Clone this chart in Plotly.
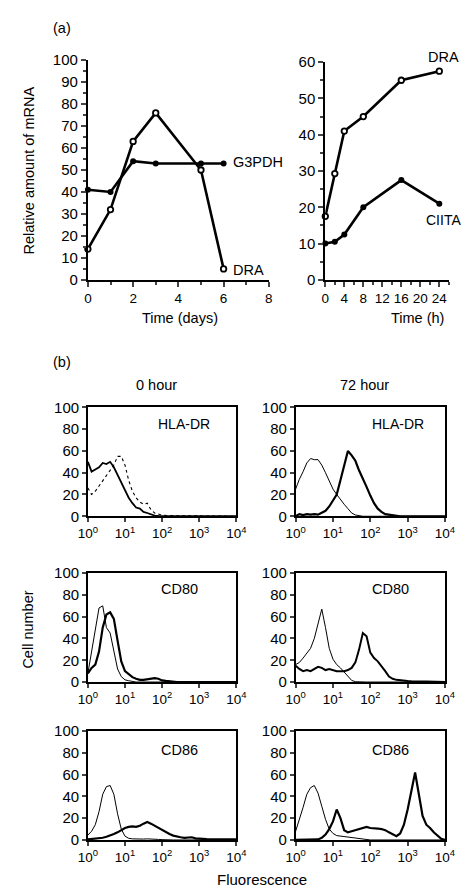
import plotly.graph_objects as go

W, H = 469, 889

# ---------------- Panel (a) data ----------------
DAYS = [0, 1, 2, 3, 5, 6]
DRA_DAYS = [14, 32, 63, 76, 50, 5]
G3PDH_DAYS = [41, 40, 54, 53, 53, 53]

HOURS = [0, 2, 4, 8, 16, 24]
DRA_HOURS = [17.5, 29.3, 41, 45, 55, 57.5]
CIITA_HOURS = [10, 10.5, 12.5, 20, 27.5, 21]

# ---------------- Panel (b) data ----------------
# log10 of fluorescence channel
FL_EXP = [0.0, 0.1, 0.2, 0.3, 0.4, 0.5, 0.6, 0.7, 0.8, 0.9,
          1.0, 1.1, 1.2, 1.3, 1.4, 1.5, 1.6, 1.7, 1.8, 1.9,
          2.0, 2.1, 2.2, 2.3, 2.4, 2.5, 2.6, 2.7, 2.8, 2.9,
          3.0, 3.1, 3.2, 3.3, 3.4, 3.5, 3.6, 3.7, 3.8, 3.9, 4.0]

HLA_0H_POS = [50, 41, 43, 45, 49, 48, 50, 45, 38, 31,
              23, 17, 12, 8, 7, 4, 3, 1.5, 0.6, 0.3,
              0, 0, 0, 0, 0, 0, 0, 0, 0, 0,
              0, 0, 0, 0, 0, 0, 0, 0, 0, 0, 0]
HLA_0H_CTRL = [26, 20, 23, 28, 32, 37, 42, 47, 55, 55,
               47, 33, 23, 17, 13, 11, 12, 6, 3, 1.8,
               1, 0.8, 0.5, 0.5, 0.5, 0.5, 0.5, 0.5, 0.5, 0.5,
               0.5, 0.5, 0.5, 0.5, 0.5, 0.5, 0, 0, 0, 0, 0]
HLA_72H_CTRL = [25, 34, 41, 49, 53, 52, 52, 47, 40, 32,
                25, 20, 15, 11, 7, 3, 1.2, 0.5, 0, 0,
                0, 0, 0, 0, 0, 0, 0, 0, 0, 0,
                0, 0, 0, 0, 0, 0, 0, 0, 0, 0, 0]
HLA_72H_POS = [0, 2, 1, 2, 1.5, 2, 1.5, 3, 5, 9,
               14, 20, 33, 47, 60, 56, 51, 42, 35, 27,
               19, 12, 7, 4, 2, 1.5, 0.5, 0, 0, 0,
               0, 0, 0, 0, 0, 0, 0, 0, 0, 0, 0]

CD80_0H_CTRL = [8, 28, 52, 68, 70, 50, 45, 30, 12, 5,
                2, 1.2, 0.5, 0, 0, 0, 0, 0, 0, 0,
                0, 0, 0, 0, 0, 0, 0, 0, 0, 0,
                0, 0, 0, 0, 0, 0, 0, 0, 0, 0, 0]
CD80_0H_POS = [8, 13, 16, 28, 50, 62, 64, 58, 38, 19,
               10, 7, 4.5, 3, 2, 2, 2.7, 3.5, 3.5, 3,
               1.5, 1, 0.5, 0, 0, 0, 0, 0, 0, 0,
               0, 0, 0, 0, 0, 0, 0, 0, 0, 0, 0]
CD80_72H_CTRL = [16, 18, 22, 27, 31, 40, 55, 67, 50, 31,
                 21, 16, 13, 9, 4.5, 1.5, 0.3, 0, 0, 0,
                 0, 0, 0, 0, 0, 0, 0, 0, 0, 0,
                 0, 0, 0, 0, 0, 0, 0, 0, 0, 0, 0]
CD80_72H_POS = [15, 12, 10, 11, 10, 12, 14, 13, 11, 12,
                11, 10, 10, 10, 11, 13, 18, 30, 45, 42,
                27, 22, 19, 15, 10, 5, 3, 2, 1.5, 1,
                1, 0.8, 0.5, 0.8, 0.5, 0.5, 0.5, 0.5, 0.3, 0, 0]

CD86_0H_CTRL = [4.5, 8, 14, 26, 42, 49, 50, 42, 24, 10,
                3.5, 1.5, 1, 0.8, 0.5, 0.8, 1, 1, 0.8, 0.5,
                0.3, 0, 0, 0, 0, 0, 0, 0, 0, 0,
                0, 0, 0, 0, 0, 0, 0, 0, 0, 0, 0]
CD86_0H_POS = [0.5, 0.8, 1, 1.5, 2, 3, 4, 5.5, 7, 9,
               11, 12, 12.5, 12, 13, 15, 16.5, 15, 13, 11,
               9, 7, 5.5, 4, 3, 2.5, 2, 2.5, 2.5, 1.5,
               1, 1, 0.8, 0.8, 0.8, 0.8, 0.6, 0.6, 0.5, 0.5, 0.5]
CD86_72H_CTRL = [8, 18, 30, 42, 48, 50, 43, 31, 19, 10,
                 6, 4, 3.5, 3, 2.5, 2, 1.5, 1, 0.5, 0.3,
                 0, 0, 0, 0, 0, 0, 0, 0, 0, 0,
                 0, 0, 0, 0, 0, 0, 0, 0, 0, 0, 0]
CD86_72H_POS = [0, 0, 0, 0, 0, 0, 0.5, 2, 5, 10,
                17, 28, 20, 9, 7, 8, 9, 10, 11, 12,
                11, 11, 10.5, 10, 9, 7, 5, 3.5, 6, 14,
                28, 46, 62, 42, 22, 14, 11, 7, 4, 1, 0]

FL_TICKS = [1, 10, 100, 1000, 10000]
FL_TICKTEXT = ["10<sup>0</sup>", "10<sup>1</sup>", "10<sup>2</sup>",
               "10<sup>3</sup>", "10<sup>4</sup>"]

FONT = "Arial, Liberation Sans, sans-serif"


def px(x):
    return x / W


def py(y):
    return 1 - y / H


FL = [10 ** e for e in FL_EXP]

fig = go.Figure()

# ---- (a) left ----
fig.add_trace(go.Scatter(x=DAYS, y=G3PDH_DAYS, mode="lines+markers",
                         line=dict(color="black", width=2.6),
                         marker=dict(symbol="circle", size=6, color="black"),
                         xaxis="x", yaxis="y", cliponaxis=False))
fig.add_trace(go.Scatter(x=DAYS, y=DRA_DAYS, mode="lines+markers",
                         line=dict(color="black", width=2.6),
                         marker=dict(symbol="circle", size=5.5, color="white",
                                     line=dict(color="black", width=1.8)),
                         xaxis="x", yaxis="y", cliponaxis=False))
# ---- (a) right ----
fig.add_trace(go.Scatter(x=HOURS, y=CIITA_HOURS, mode="lines+markers",
                         line=dict(color="black", width=2.6),
                         marker=dict(symbol="circle", size=6, color="black"),
                         xaxis="x2", yaxis="y2", cliponaxis=False))
fig.add_trace(go.Scatter(x=HOURS, y=DRA_HOURS, mode="lines+markers",
                         line=dict(color="black", width=2.6),
                         marker=dict(symbol="circle", size=5.5, color="white",
                                     line=dict(color="black", width=1.8)),
                         xaxis="x2", yaxis="y2", cliponaxis=False))

# ---- (b) histograms ----
hists = [
    ("x3", "y3", HLA_0H_CTRL, dict(color="black", width=1.1, dash="dot")),
    ("x3", "y3", HLA_0H_POS, dict(color="black", width=1.8)),
    ("x4", "y4", HLA_72H_CTRL, dict(color="black", width=1.0)),
    ("x4", "y4", HLA_72H_POS, dict(color="black", width=2.2)),
    ("x5", "y5", CD80_0H_CTRL, dict(color="black", width=1.0)),
    ("x5", "y5", CD80_0H_POS, dict(color="black", width=2.2)),
    ("x6", "y6", CD80_72H_CTRL, dict(color="black", width=1.0)),
    ("x6", "y6", CD80_72H_POS, dict(color="black", width=2.0)),
    ("x7", "y7", CD86_0H_CTRL, dict(color="black", width=1.0)),
    ("x7", "y7", CD86_0H_POS, dict(color="black", width=2.2)),
    ("x8", "y8", CD86_72H_CTRL, dict(color="black", width=1.0)),
    ("x8", "y8", CD86_72H_POS, dict(color="black", width=2.2)),
]
for xa, ya, vals, ln in hists:
    fig.add_trace(go.Scatter(x=FL, y=vals, mode="lines", line=ln,
                             xaxis=xa, yaxis=ya))

ytickfont = dict(family=FONT, size=15, color="black")
xtickfont = dict(family=FONT, size=13.5, color="black")
htickfont = dict(family=FONT, size=13.5, color="black")

layout = dict(
    width=W, height=H, margin=dict(l=0, r=0, t=0, b=0),
    paper_bgcolor="white", plot_bgcolor="white", showlegend=False,
    font=dict(family=FONT, size=14, color="black"),
)

# top-left axes
layout["xaxis"] = dict(domain=[px(73), px(262)], range=[0, 8], anchor="y",
                       showline=True, linecolor="black", linewidth=2,
                       ticks="outside", ticklen=5, tickwidth=1.5, dtick=2,
                       minor=dict(dtick=1, ticks="outside", ticklen=3, tickwidth=1.5),
                       showgrid=False, zeroline=False, tickfont=xtickfont)
layout["yaxis"] = dict(domain=[py(268), py(44)], range=[0, 100], anchor="x",
                       showline=True, linecolor="black", linewidth=2,
                       ticks="outside", ticklen=5, tickwidth=1.5, dtick=10,
                       minor=dict(dtick=5, ticks="outside", ticklen=3, tickwidth=1.5),
                       showgrid=False, zeroline=False, tickfont=ytickfont)
# top-right axes
layout["xaxis2"] = dict(domain=[px(321), px(450)], range=[0, 26], anchor="y2",
                        showline=True, linecolor="black", linewidth=2,
                        ticks="outside", ticklen=5, tickwidth=1.5,
                        tickvals=[0, 4, 8, 12, 16, 20, 24],
                        minor=dict(dtick=2, ticks="outside", ticklen=3, tickwidth=1.5),
                        showgrid=False, zeroline=False, tickfont=xtickfont)
layout["yaxis2"] = dict(domain=[py(268), py(46)], range=[0, 60], anchor="x2",
                        showline=True, linecolor="black", linewidth=2,
                        ticks="outside", ticklen=5, tickwidth=1.5, dtick=10,
                        minor=dict(dtick=5, ticks="outside", ticklen=3, tickwidth=1.5),
                        showgrid=False, zeroline=False, tickfont=ytickfont)

cols = [(73, 228), (290, 446)]
rows = [(398, 509), (567, 678), (728, 839)]
n = 3
for r in rows:
    for c in cols:
        xa, ya = f"xaxis{n}", f"yaxis{n}"
        layout[xa] = dict(domain=[px(c[0]), px(c[1])], type="log", range=[0, 4],
                          anchor=f"y{n}", showline=True, mirror=True,
                          linecolor="black", linewidth=1.5,
                          ticks="outside", ticklen=4, tickwidth=1.5,
                          tickvals=FL_TICKS, ticktext=FL_TICKTEXT,
                          showgrid=False, zeroline=False, tickfont=htickfont)
        layout[ya] = dict(domain=[py(r[1]), py(r[0])], range=[0, 100],
                          anchor=f"x{n}", showline=True, mirror=True,
                          linecolor="black", linewidth=1.5,
                          ticks="outside", ticklen=4, tickwidth=1.5, dtick=20,
                          showgrid=False, zeroline=False, tickfont=ytickfont)
        n += 1


def ann(text, x, y, xanchor="center", size=14.5, angle=0):
    return dict(text=text, x=px(x), y=py(y), xref="paper", yref="paper",
                xanchor=xanchor, yanchor="middle", showarrow=False,
                textangle=angle, font=dict(family=FONT, size=size, color="black"))


layout["annotations"] = [
    ann("(a)", 46, 11),
    ann("(b)", 46, 352),
    ann("Relative amount of mRNA", 12, 156, angle=-90),
    ann("G3PDH", 223, 148, xanchor="left"),
    ann("DRA", 222, 258, xanchor="left"),
    ann("DRA", 444, 41),
    ann("CIITA", 465, 207, xanchor="right", size=14),
    ann("Time (days)", 169, 307),
    ann("Time (h)", 417, 307),
    ann("0 hour", 145, 375),
    ann("72 hour", 362, 375),
    ann("HLA-DR", 173, 415, size=14),
    ann("HLA-DR", 397, 415, size=14),
    ann("CD80", 169, 583),
    ann("CD80", 389, 583),
    ann("CD86", 169, 747),
    ann("CD86", 389, 747),
    ann("Cell number", 10, 625, angle=-90),
    ann("Fluorescence", 255, 879, size=15),
]

fig.update_layout(**layout)
fig.write_html("out.html")
